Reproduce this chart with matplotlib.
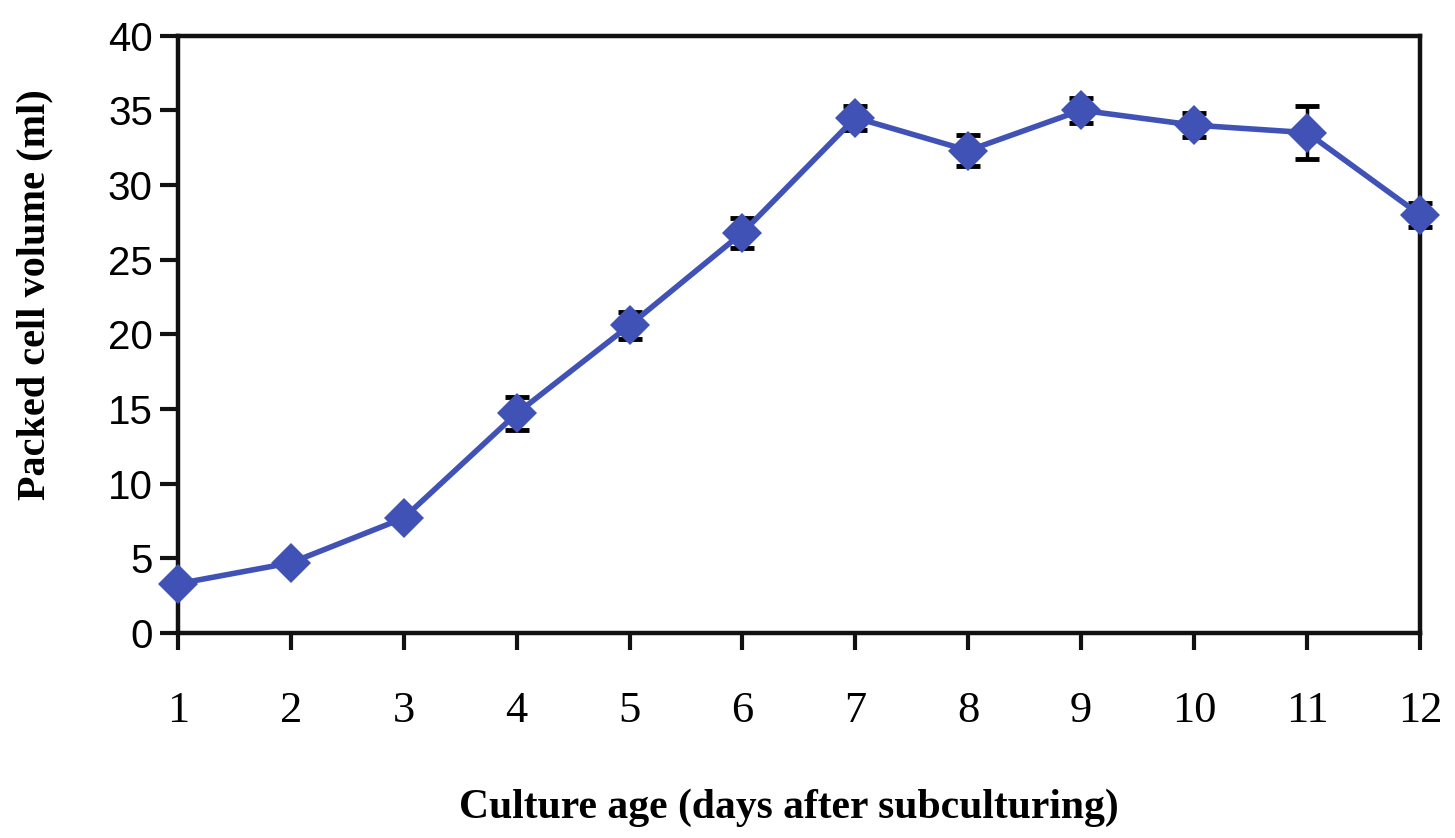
import matplotlib.pyplot as plt
import numpy as np

# packed cell volume over culture age
days = np.arange(1, 13)
pcv = [3.3, 4.7, 7.7, 14.7, 20.6, 26.8, 34.5, 32.3, 35.0, 34.0, 33.5, 28.0]
pcv_err = [0.3, 0.3, 0.3, 1.1, 0.9, 1.0, 0.8, 1.05, 0.85, 0.8, 1.75, 0.8]

blue = '#4052b5'

fig = plt.figure(figsize=(14.55, 8.38), dpi=100)
ax = fig.add_axes([0.1223, 0.2446, 0.8536, 0.713])

ax.errorbar(days, pcv, yerr=pcv_err, fmt='none', ecolor='black',
            elinewidth=2.5, capsize=8.5, capthick=3.5, zorder=2, clip_on=False)
ax.plot(days, pcv, color=blue, lw=4, marker='D', ms=20,
        markeredgewidth=0, zorder=3, clip_on=False)

ax.set_xlim(1, 12)
ax.set_ylim(0, 40)
ax.set_xticks(days)
ax.set_yticks(np.arange(0, 45, 5))

for side in ['left', 'bottom', 'top', 'right']:
    ax.spines[side].set_linewidth(3.2)
    ax.spines[side].set_color('#111111')

ax.tick_params(axis='y', direction='out', length=13, width=3, pad=5,
               labelsize=29, color='#111111')
ax.tick_params(axis='x', direction='out', length=12, width=3, pad=30,
               labelsize=32, color='#111111')
for lab in ax.get_yticklabels():
    lab.set_family('Liberation Sans')
for lab in ax.get_xticklabels():
    lab.set_family('Liberation Serif')

ax.set_xlabel('Culture age (days after subculturing)', fontsize=30,
              fontweight='bold', family='Liberation Serif', va='center')
ax.xaxis.set_label_coords(0.4915, -0.293)
ax.set_ylabel('Packed cell volume (ml)', fontsize=29, fontweight='bold',
              family='Liberation Serif', va='center')
ax.yaxis.set_label_coords(-0.115, 0.566)

plt.savefig('out.png', dpi=100)
